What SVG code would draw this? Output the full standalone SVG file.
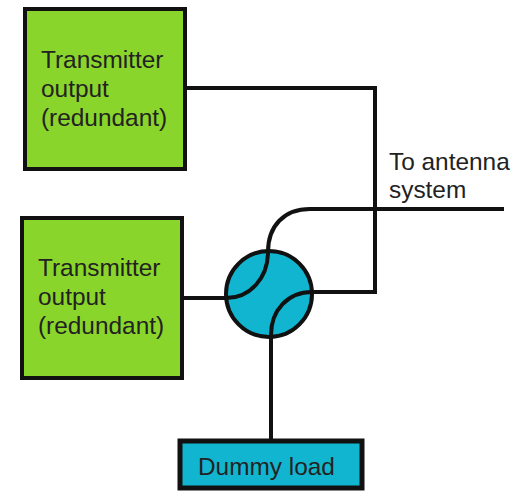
<svg xmlns="http://www.w3.org/2000/svg" width="528" height="498" viewBox="0 0 528 498">
<style>
.box{stroke:#111;stroke-width:4}
.g{fill:#8ad52b}
.b{fill:#12b5cf}
.c{fill:none;stroke:#111;stroke-width:4}
text{font-family:"Liberation Sans",Arial,sans-serif;font-size:24.4px;fill:#222}
</style>
<rect width="528" height="498" fill="#fff"/>
<g id="tx1"><rect class="box g" x="25" y="9" width="160" height="160"/><text x="41" y="68">Transmitter</text><text x="41" y="97">output</text><text x="41" y="126">(redundant)</text></g>
<g id="tx2"><rect class="box g" x="22" y="218" width="160" height="160"/><text x="38" y="276">Transmitter</text><text x="38" y="305">output</text><text x="38" y="334">(redundant)</text></g>
<g id="coupler"><circle class="box b" cx="269" cy="294" r="43"/></g>
<g id="load"><rect x="180" y="441" width="182" height="47" fill="#12b5cf" stroke="#111" stroke-width="5"/><text x="198" y="475">Dummy load</text></g>
<g id="label"><text x="389" y="170">To antenna</text><text x="389" y="198">system</text></g>
<g id="connectors">
<path class="c" d="M185 88H375V292H313"/>
<path class="c" d="M182 298H226C250 298 268 278 268 252C268 226 284 209 310 209H504"/>
<path class="c" d="M313 292H312C288 292 271 310 271 335V441"/>
</g>
</svg>
